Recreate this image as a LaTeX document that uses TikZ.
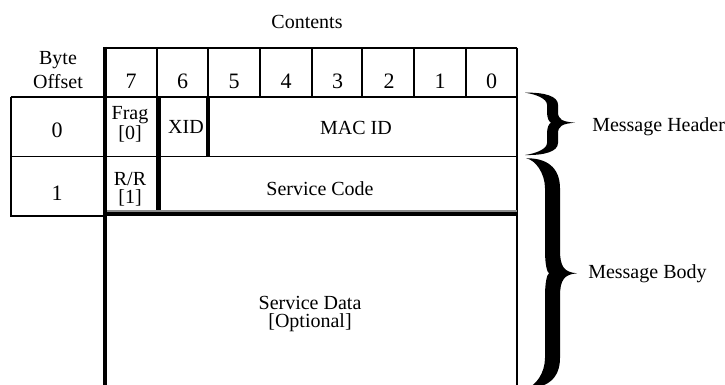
\documentclass[tikz,border=0pt]{standalone}
\usepackage{fontspec}
\setmainfont{Liberation Serif}
\newcommand{\mybrace}[9]{%
\fill (#1,#3) .. controls ({#1+0.6*(#7-#1)},{#3-0.5}) and (#7,{#3+0.3*#8}) .. (#7,{#3+#8})
 -- (#7,{#5-#9}) .. controls (#7,{#5-0.3*#9}) and ({#7+4},{#5-1}) .. (#2,#5)
 .. controls ({#7+4},{#5+1}) and (#7,{#5+0.3*#9}) .. (#7,{#5+#9})
 -- (#7,{#4-#8}) .. controls (#7,{#4-0.3*#8}) and ({#1+0.6*(#7-#1)},{#4+0.5}) .. (#1,#4)
 .. controls ({#1+0.5*(#6-#1)},{#4-1.5}) and (#6,{#4-0.5*#8}) .. (#6,{#4-#8})
 -- (#6,{#5+#9}) .. controls (#6,{#5+0.4*#9}) and ({#6+2},{#5+1}) .. ({#6+4},#5)
 .. controls ({#6+2},{#5-1}) and (#6,{#5-0.4*#9}) .. (#6,{#5-#9})
 -- (#6,{#3+#8}) .. controls (#6,{#3+0.5*#8}) and ({#1+0.5*(#6-#1)},{#3+1.5}) .. (#1,#3) -- cycle;}
\begin{document}
\begin{tikzpicture}[x=0.75pt,y=-0.75pt,
  thinln/.style={line width=1.4pt},
  thickln/.style={line width=3pt},
  txt/.style={font=\fontsize{15}{18}\selectfont, inner sep=0pt, anchor=base},
  twoline/.style={font=\fontsize{15}{#1}\selectfont, inner sep=0pt, anchor=base, align=center},
  dig/.style={font=\fontsize{16.5}{20}\selectfont, inner sep=0pt, anchor=base},
  lbl/.style={font=\fontsize{15}{18}\selectfont, inner sep=0pt, anchor=base west}]
\useasboundingbox (0,0) rectangle (725,385);

% grid lines
\draw[thinln] (105,47.7) -- (517,47.7);
\foreach \x in {156.7,208,260,311.7,361.7,414,466}{\draw[thinln] (\x,47.7) -- (\x,97);}
\draw[thinln] (10.7,97) -- (517,97);
\draw[thinln] (10.7,156.5) -- (517,156.5);
\draw[thinln] (10.7,97) -- (10.7,216) -- (105,216);
\draw[thinln] (517,47.7) -- (517,392);
\draw[line width=2.4pt] (208,97) -- (208,156.5);
\draw[line width=3.3pt] (158.5,97) -- (158.5,211.5);
\draw[line width=0.9pt, black!45] (105,211) -- (517,211);
\draw[line width=3pt] (105,214.3) -- (517,214.3);
\draw[thickln] (105.3,47) -- (105.3,392);

% header texts
\node[txt] (contents) at (307,28.3) {Contents};
\node[twoline=17.5] (byteoff) at (58,88.3) {Byte\\Offset};
\node[dig] (b7) at (131,88.3) {7};
\node[dig] (b6) at (182.5,88.3) {6};
\node[dig] (b5) at (234,88.3) {5};
\node[dig] (b4) at (286,88.3) {4};
\node[dig] (b3) at (337.5,88.3) {3};
\node[dig] (b2) at (389,88.3) {2};
\node[dig] (b1) at (440,88.3) {1};
\node[dig] (b0) at (491.5,88.3) {0};

% row texts
\node[dig] (off0) at (57,137.7) {0};
\node[dig] (off1) at (57,200) {1};
\node[twoline=13.4] (frag) at (130,139.5) {Frag\\{[0]}};
\node[txt] (xid) at (186,133.3) {XID};
\node[txt] (macid) at (356,134) {MAC ID};
\node[twoline=13.5] (rr) at (130,203) {R/R\\{[1]}};
\node[txt] (scode) at (320,195) {Service Code};
\node[twoline=13.4] (sdata) at (310,327) {Service Data\\{[Optional]}};

% braces
\mybrace{525}{575}{92.7}{155}{122.7}{547}{558}{12}{11}
\mybrace{526}{577}{158.3}{388}{273.3}{545}{560}{30}{23}
\node[lbl] (mhead) at (592,131.7) {Message Header};
\node[lbl] (mbody) at (588,278.3) {Message Body};
\end{tikzpicture}
\end{document}
